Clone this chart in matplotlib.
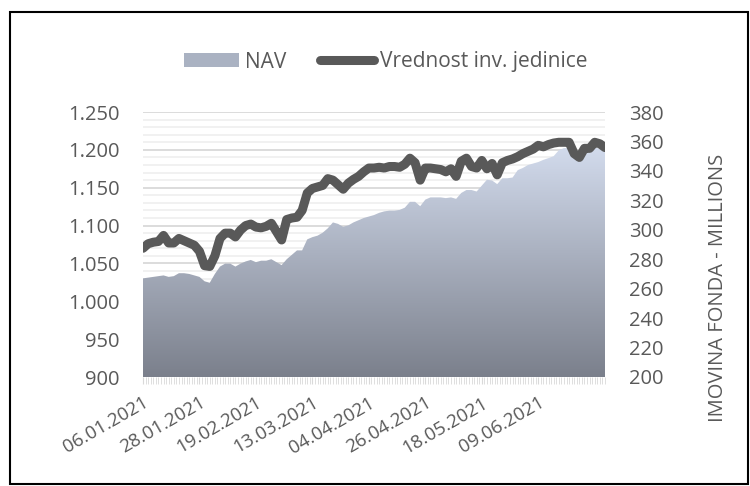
import numpy as np
import pandas as pd
import matplotlib
matplotlib.use("Agg")
import matplotlib.pyplot as plt
from matplotlib.ticker import FuncFormatter, MultipleLocator
from matplotlib.colors import LinearSegmentedColormap
from matplotlib.patches import Rectangle, Patch
from matplotlib.lines import Line2D

plt.rcParams["font.family"] = ["Open Sans", "DejaVu Sans"]

# podaci na svaka 2 dana, od 06.01.2021
datumi = pd.date_range("2021-01-06", periods=91, freq="2D")
dani = (datumi - datumi[0]).days.values

vrednost_jedinice = [
    1070, 1076, 1078, 1079, 1087, 1077, 1077, 1083, 1080, 1077,
    1074, 1066, 1047, 1046, 1060, 1083, 1090, 1090, 1085, 1094,
    1100, 1102, 1098, 1097, 1099, 1103, 1092, 1081, 1108, 1110,
    1111, 1120, 1143, 1149, 1151, 1153, 1162, 1160, 1154, 1148,
    1156, 1161, 1165, 1171, 1176, 1176, 1177, 1176, 1178, 1178,
    1177, 1181, 1189, 1183, 1160, 1176, 1176, 1175, 1174, 1171,
    1175, 1165, 1185, 1189, 1178, 1176, 1186, 1175, 1182, 1167,
    1183, 1186, 1188, 1191, 1195, 1198, 1201, 1206, 1204, 1207,
    1209, 1210, 1210, 1210, 1195, 1190, 1202, 1202, 1210, 1208,
    1203,
]

nav_mil = [
    267, 267.5, 268, 268.5, 269, 268, 268.5, 270.5, 270.5, 270,
    269, 268, 265, 264, 270, 275, 277, 277, 275, 277,
    278.5, 279.5, 278, 279, 279, 280, 278, 276, 280, 283,
    286, 286, 293.5, 295, 296, 298, 301, 305, 304, 302,
    303, 305, 306.5, 308, 309, 310, 311.5, 312.5, 313, 313,
    313.5, 315, 319, 319, 316, 320.5, 322, 322, 322, 321.5,
    322, 321, 325, 327, 327, 326, 330, 334, 333.5, 331,
    335, 335, 335.5, 340.5, 342, 344, 345, 346, 347.5, 348.7,
    350, 354, 355.5, 355.5, 354, 352.5, 354, 355.5, 356, 355,
    353.5,
]

tick_dani = [0, 22, 44, 66, 88, 110, 132, 154]
tick_labele = ["06.01.2021", "28.01.2021", "19.02.2021", "13.03.2021",
               "04.04.2021", "26.04.2021", "18.05.2021", "09.06.2021"]

siva = "#595959"

fig = plt.figure(figsize=(7.5, 4.86), dpi=100)
ax = fig.add_axes([143 / 750, 1 - 377 / 486, 462 / 750, 265 / 486])
ax2 = ax.twinx()

# NAV - povrsina sa gradijentom (desna osa)
poly = ax2.fill_between(dani, nav_mil, 200, facecolor="none", edgecolor="none")
cmap = LinearSegmentedColormap.from_list("nav", ["#7b808c", "#dae3f5"])
grad = np.linspace(0, 1, 256).reshape(-1, 1)
img = ax2.imshow(grad, extent=[dani[0], dani[-1], 200, 370], aspect="auto",
                 origin="lower", cmap=cmap, zorder=1)
img.set_clip_path(poly.get_paths()[0], transform=ax2.transData)

# vrednost inv. jedinice (leva osa), crta se iznad povrsine
ax2.plot(dani, vrednost_jedinice, color=siva, linewidth=6.5,
         solid_capstyle="round", solid_joinstyle="round",
         transform=ax.transData, zorder=3)

ax.set_ylim(900, 1250)
ax2.set_ylim(200, 380)
ax.set_xlim(dani[0], dani[-1])
ax2.set_xlim(dani[0], dani[-1])

ax.yaxis.set_major_locator(MultipleLocator(50))
ax.yaxis.set_minor_locator(MultipleLocator(10))
ax.yaxis.set_major_formatter(FuncFormatter(lambda v, p: f"{v:,.0f}".replace(",", ".")))
ax2.yaxis.set_major_locator(MultipleLocator(20))

ax.grid(True, which="major", axis="y", color="#d9d9d9", linewidth=1.3)
ax.grid(True, which="minor", axis="y", color="#eeeeee", linewidth=1.1)
ax.set_axisbelow(True)

ax.set_xticks(tick_dani)
ax.set_xticklabels(tick_labele, rotation=30, ha="right", va="top",
                   rotation_mode="anchor")
ax.xaxis.set_minor_locator(MultipleLocator(1))
ax.tick_params(axis="x", which="major", length=5, color="#d9d9d9", pad=7,
               labelsize=13.5, labelcolor=siva)
ax.tick_params(axis="x", which="minor", length=5, color="#d9d9d9", width=0.6)
ax.tick_params(axis="y", which="both", length=0, pad=17, labelsize=14.5,
               labelcolor=siva)
ax2.tick_params(axis="y", length=0, pad=17, labelsize=14.5, labelcolor=siva)

for a in (ax, ax2):
    for s in a.spines.values():
        s.set_visible(False)

fig.text(718 / 750, 1 - 288 / 486, "IMOVINA FONDA - MILLIONS", rotation=90,
         ha="center", va="center", fontsize=14.5, color=siva)

ruke = [Patch(facecolor="#aab2c2", edgecolor="none"),
        Line2D([0], [0], color=siva, linewidth=6.5, solid_capstyle="round")]
fig.legend(ruke, ["NAV", "Vrednost inv. jedinice"], loc="center",
           bbox_to_anchor=(386 / 750, 1 - 62 / 486), ncol=2, frameon=False,
           fontsize=15, labelcolor=siva, handlelength=2.6, handletextpad=0.3,
           columnspacing=1.6)

fig.patches.append(Rectangle((10 / 750, 2 / 486), 738 / 750, 472 / 486,
                             transform=fig.transFigure, fill=False,
                             edgecolor="black", linewidth=1.5))

fig.savefig("out.png", dpi=100)
